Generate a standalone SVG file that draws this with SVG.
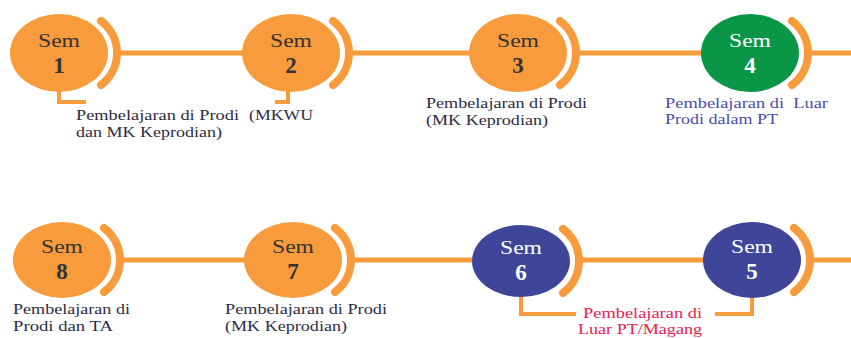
<svg xmlns="http://www.w3.org/2000/svg" width="851" height="338" viewBox="0 0 851 338">
<style>
.conn{stroke:#f89b3c;stroke-width:5;fill:none}
.brk{stroke:#f89b3c;stroke-width:4;fill:none}
.arc{stroke:#f89b3c;stroke-width:8;fill:none;stroke-linecap:round}
.or{fill:#f89b3c}
.gr{fill:#0b9547}
.bl{fill:#3f4599}
.sem{font-family:"Liberation Serif","DejaVu Serif",serif;font-size:19px;text-anchor:middle}
.num{font-family:"Liberation Serif","DejaVu Serif",serif;font-size:23px;font-weight:bold;text-anchor:middle}
.dk{fill:#333333}
.wh{fill:#ffffff}
.lbl{font-family:"Liberation Serif","DejaVu Serif",serif;font-size:15px;fill:#2d2d44}
.lblb{font-family:"Liberation Serif","DejaVu Serif",serif;font-size:15px;fill:#4b4ba8}
.lblr{font-family:"Liberation Serif","DejaVu Serif",serif;font-size:14px;fill:#e8204f}
</style>
<defs>
<path id="arc" class="arc" d="M42,-32 A40,40 0 0 1 42,32"/>
</defs>
<g id="connectors">
<line class="conn" x1="117" y1="53" x2="291" y2="53"/>
<line class="conn" x1="349" y1="53" x2="518" y2="53"/>
<line class="conn" x1="576" y1="53" x2="750" y2="53"/>
<line class="conn" x1="808" y1="53" x2="851" y2="53"/>
<line class="conn" x1="120" y1="260" x2="293" y2="260"/>
<line class="conn" x1="351" y1="260" x2="521" y2="260"/>
<line class="conn" x1="579" y1="260" x2="752" y2="260"/>
<line class="conn" x1="810" y1="260" x2="851" y2="260"/>
<path class="brk" d="M59,90 V102 H86"/>
<path class="brk" d="M288,90 V102 H275"/>
<path class="brk" d="M521,296 V314 H576"/>
<path class="brk" d="M752,296 V314 H715"/>
</g>
<g id="sem1" transform="translate(59,53)">
<ellipse class="or" rx="49" ry="39"/>
<use href="#arc"/>
<text class="sem dk" y="-6" textLength="42" lengthAdjust="spacingAndGlyphs">Sem</text>
<text class="num dk" y="20">1</text>
</g>
<g id="sem2" transform="translate(291,53)">
<ellipse class="or" rx="49" ry="39"/>
<use href="#arc"/>
<text class="sem dk" y="-6" textLength="42" lengthAdjust="spacingAndGlyphs">Sem</text>
<text class="num dk" y="20">2</text>
</g>
<g id="sem3" transform="translate(518,53)">
<ellipse class="or" rx="49" ry="39"/>
<use href="#arc"/>
<text class="sem dk" y="-6" textLength="42" lengthAdjust="spacingAndGlyphs">Sem</text>
<text class="num dk" y="20">3</text>
</g>
<g id="sem4" transform="translate(750,53)">
<ellipse class="gr" rx="49" ry="39"/>
<use href="#arc"/>
<text class="sem wh" y="-6" textLength="42" lengthAdjust="spacingAndGlyphs">Sem</text>
<text class="num wh" y="20">4</text>
</g>
<g id="sem8" transform="translate(62,260)">
<ellipse class="or" rx="49" ry="38"/>
<use href="#arc"/>
<text class="sem dk" y="-7" textLength="42" lengthAdjust="spacingAndGlyphs">Sem</text>
<text class="num dk" y="19">8</text>
</g>
<g id="sem7" transform="translate(293,260)">
<ellipse class="or" rx="49" ry="38"/>
<use href="#arc"/>
<text class="sem dk" y="-7" textLength="42" lengthAdjust="spacingAndGlyphs">Sem</text>
<text class="num dk" y="19">7</text>
</g>
<g id="sem6" transform="translate(521,261)">
<ellipse class="bl" rx="49" ry="36"/>
<use href="#arc"/>
<text class="sem wh" y="-7" textLength="42" lengthAdjust="spacingAndGlyphs">Sem</text>
<text class="num wh" y="19">6</text>
</g>
<g id="sem5" transform="translate(752,260)">
<ellipse class="bl" rx="49" ry="38"/>
<use href="#arc"/>
<text class="sem wh" y="-7" textLength="42" lengthAdjust="spacingAndGlyphs">Sem</text>
<text class="num wh" y="19">5</text>
</g>
<g id="labels">
<text class="lbl" x="76" y="120" textLength="163" lengthAdjust="spacingAndGlyphs">Pembelajaran di Prodi</text>
<text class="lbl" x="249" y="120" textLength="64" lengthAdjust="spacingAndGlyphs">(MKWU</text>
<text class="lbl" x="76" y="137" textLength="146" lengthAdjust="spacingAndGlyphs">dan MK Keprodian)</text>
<text class="lbl" x="426" y="108" textLength="161" lengthAdjust="spacingAndGlyphs">Pembelajaran di Prodi</text>
<text class="lbl" x="426" y="125" textLength="122" lengthAdjust="spacingAndGlyphs">(MK Keprodian)</text>
<text class="lblb" x="665" y="108" textLength="163" lengthAdjust="spacingAndGlyphs" xml:space="preserve">Pembelajaran di  Luar</text>
<text class="lblb" x="665" y="124" textLength="113" lengthAdjust="spacingAndGlyphs">Prodi dalam PT</text>
<text class="lbl" x="13" y="314" textLength="117" lengthAdjust="spacingAndGlyphs">Pembelajaran di</text>
<text class="lbl" x="13" y="331" textLength="100" lengthAdjust="spacingAndGlyphs">Prodi dan TA</text>
<text class="lbl" x="225" y="314" textLength="162" lengthAdjust="spacingAndGlyphs">Pembelajaran di Prodi</text>
<text class="lbl" x="225" y="331" textLength="122" lengthAdjust="spacingAndGlyphs">(MK Keprodian)</text>
<text class="lblr" x="583" y="318" textLength="119" lengthAdjust="spacingAndGlyphs">Pembelajaran di</text>
<text class="lblr" x="578" y="334" textLength="124" lengthAdjust="spacingAndGlyphs">Luar PT/Magang</text>
</g>
</svg>
